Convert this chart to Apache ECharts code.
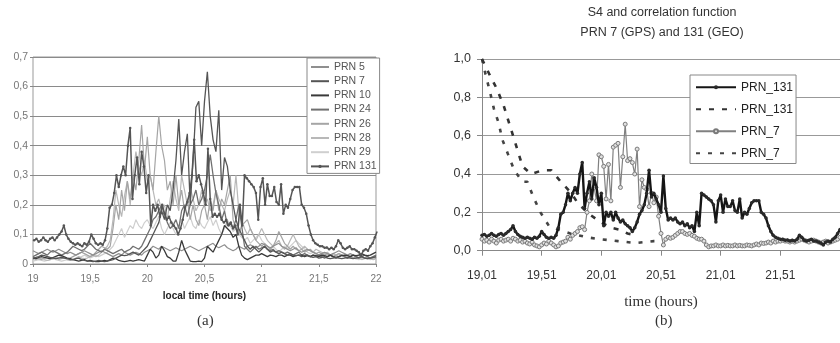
<!DOCTYPE html>
<html>
<head>
<meta charset="utf-8">
<script src="https://cdn.jsdelivr.net/npm/echarts@6/dist/echarts.min.js"></script>
<style>
  html, body { margin: 0; padding: 0; background: #fff; }
  #chart { width: 840px; height: 343px; }
</style>
</head>
<body>
<div id="chart"></div>
<script>
// Evenly spaced sampling instants (hours)
function evenHours(start, step, count) {
  return Array.from({ length: count }, (_, i) => +(start + i * step).toFixed(3));
}
const hoursA = evenHours(19.0, 0.025, 121);   // panel (a) receivers, 19:00 .. 22:00
const hoursB = evenHours(19.01, 0.02, 151);   // PRN 131 / PRN_7 S4 samples, 19.01 .. 22.01

// Axis tick labels
const ticksA = [19, 19.5, 20, 20.5, 21, 21.5, 22];
const ticksB = ['19,01', '19,51', '20,01', '20,51', '21,01', '21,51'];

// ---- Panel (a): S4 per satellite ----
const prn5 = [
  0.045,0.040,0.035,0.040,0.045,0.050,0.045,0.040,0.045,0.050,
  0.045,0.040,0.035,0.040,0.035,0.030,0.035,0.040,0.045,0.040,
  0.035,0.030,0.035,0.040,0.045,0.040,0.035,0.030,0.025,0.030,
  0.035,0.030,0.040,0.035,0.030,0.035,0.040,0.035,0.030,0.040,
  0.045,0.050,0.060,0.055,0.050,0.060,0.055,0.050,0.045,0.050,
  0.055,0.050,0.045,0.050,0.055,0.060,0.055,0.050,0.045,0.050,
  0.055,0.060,0.065,0.070,0.060,0.055,0.060,0.065,0.055,0.050,
  0.045,0.050,0.060,0.055,0.050,0.060,0.065,0.060,0.055,0.060,
  0.070,0.065,0.060,0.055,0.060,0.065,0.070,0.060,0.055,0.050,
  0.045,0.050,0.055,0.045,0.040,0.045,0.050,0.045,0.040,0.035,
  0.030,0.035,0.040,0.035,0.030,0.035,0.040,0.045,0.040,0.035,
  0.030,0.035,0.030,0.025,0.030,0.025,0.020,0.025,0.020,0.025,
  0.020
];
const prn7 = [
  0.020,0.022,0.025,0.030,0.028,0.025,0.022,0.020,0.018,0.020,
  0.022,0.020,0.018,0.015,0.015,0.018,0.020,0.015,0.012,0.010,
  0.010,0.008,0.010,0.012,0.010,0.008,0.010,0.012,0.015,0.020,
  0.025,0.030,0.028,0.030,0.035,0.040,0.035,0.030,0.040,0.050,
  0.060,0.080,0.100,0.120,0.140,0.180,0.150,0.200,0.180,0.250,
  0.350,0.490,0.300,0.380,0.440,0.200,0.350,0.530,0.550,0.400,
  0.550,0.650,0.500,0.420,0.380,0.520,0.250,0.360,0.330,0.250,
  0.200,0.150,0.120,0.100,0.080,0.060,0.050,0.060,0.050,0.040,
  0.050,0.060,0.050,0.040,0.045,0.040,0.035,0.040,0.035,0.030,
  0.035,0.030,0.028,0.030,0.025,0.028,0.030,0.025,0.022,0.025,
  0.020,0.022,0.025,0.020,0.018,0.020,0.022,0.020,0.018,0.020,
  0.022,0.020,0.018,0.020,0.022,0.025,0.020,0.018,0.020,0.022,
  0.025
];
const prn10 = [
  0.020,0.018,0.022,0.025,0.022,0.020,0.018,0.022,0.026,0.030,
  0.028,0.024,0.020,0.018,0.015,0.012,0.010,0.012,0.015,0.010,
  0.012,0.010,0.008,0.008,0.010,0.012,0.010,0.015,0.020,0.018,
  0.012,0.010,0.008,0.010,0.012,0.010,0.012,0.015,0.012,0.010,
  0.030,0.050,0.040,0.020,0.030,0.060,0.045,0.025,0.020,0.010,
  0.010,0.040,0.080,0.050,0.030,0.010,0.008,0.008,0.010,0.008,
  0.020,0.060,0.050,0.040,0.060,0.080,0.100,0.130,0.120,0.110,
  0.090,0.100,0.060,0.030,0.020,0.015,0.020,0.025,0.030,0.030,
  0.035,0.030,0.025,0.030,0.028,0.025,0.030,0.030,0.025,0.030,
  0.030,0.025,0.028,0.030,0.030,0.025,0.028,0.025,0.030,0.028,
  0.025,0.030,0.028,0.025,0.030,0.025,0.022,0.025,0.028,0.030,
  0.028,0.025,0.030,0.028,0.030,0.035,0.030,0.028,0.030,0.035,
  0.040
];
const prn24 = [
  0.025,0.030,0.035,0.040,0.035,0.030,0.040,0.045,0.040,0.035,
  0.030,0.035,0.040,0.050,0.060,0.055,0.050,0.045,0.050,0.060,
  0.070,0.060,0.050,0.045,0.040,0.050,0.045,0.040,0.035,0.040,
  0.045,0.050,0.040,0.045,0.050,0.060,0.055,0.050,0.060,0.080,
  0.100,0.120,0.150,0.160,0.180,0.200,0.170,0.140,0.120,0.130,
  0.150,0.120,0.180,0.200,0.160,0.200,0.220,0.250,0.200,0.220,
  0.250,0.300,0.370,0.300,0.240,0.200,0.150,0.180,0.130,0.140,
  0.120,0.150,0.200,0.130,0.060,0.050,0.040,0.050,0.060,0.050,
  0.055,0.060,0.050,0.045,0.050,0.040,0.045,0.040,0.035,0.040,
  0.035,0.030,0.035,0.040,0.030,0.035,0.030,0.025,0.030,0.025,
  0.030,0.025,0.020,0.025,0.030,0.025,0.020,0.025,0.030,0.025,
  0.020,0.025,0.030,0.025,0.020,0.025,0.030,0.025,0.020,0.025,
  0.030
];
const prn26 = [
  0.015,0.020,0.018,0.015,0.020,0.025,0.020,0.018,0.020,0.022,
  0.025,0.020,0.018,0.020,0.025,0.030,0.035,0.040,0.035,0.030,
  0.025,0.030,0.040,0.050,0.060,0.055,0.050,0.060,0.120,0.200,
  0.150,0.250,0.180,0.280,0.220,0.300,0.250,0.350,0.470,0.320,
  0.430,0.300,0.250,0.380,0.500,0.400,0.350,0.250,0.280,0.200,
  0.300,0.200,0.250,0.180,0.220,0.150,0.200,0.150,0.130,0.180,
  0.200,0.150,0.220,0.180,0.250,0.180,0.220,0.200,0.250,0.300,
  0.150,0.120,0.100,0.130,0.140,0.150,0.120,0.100,0.080,0.070,
  0.060,0.070,0.060,0.050,0.060,0.080,0.110,0.090,0.070,0.060,
  0.050,0.060,0.050,0.045,0.050,0.040,0.045,0.050,0.040,0.035,
  0.040,0.035,0.030,0.035,0.030,0.025,0.030,0.035,0.030,0.025,
  0.030,0.025,0.020,0.025,0.020,0.025,0.020,0.018,0.020,0.022,
  0.020
];
const prn28 = [
  0.020,0.015,0.018,0.020,0.015,0.012,0.015,0.018,0.020,0.015,
  0.018,0.020,0.015,0.012,0.015,0.020,0.025,0.020,0.018,0.020,
  0.025,0.030,0.025,0.030,0.040,0.050,0.060,0.080,0.150,0.250,
  0.200,0.160,0.230,0.280,0.200,0.300,0.380,0.330,0.300,0.350,
  0.280,0.300,0.250,0.200,0.220,0.180,0.200,0.150,0.220,0.280,
  0.220,0.180,0.300,0.250,0.200,0.260,0.220,0.180,0.200,0.250,
  0.200,0.220,0.180,0.200,0.250,0.220,0.200,0.180,0.220,0.250,
  0.200,0.300,0.180,0.150,0.120,0.100,0.120,0.100,0.080,0.100,
  0.120,0.100,0.080,0.070,0.060,0.070,0.080,0.060,0.050,0.060,
  0.080,0.100,0.080,0.060,0.050,0.060,0.050,0.045,0.040,0.050,
  0.045,0.040,0.035,0.040,0.030,0.035,0.030,0.025,0.030,0.025,
  0.020,0.025,0.020,0.018,0.020,0.015,0.018,0.020,0.018,0.015,
  0.018
];
const prn29 = [
  0.010,0.012,0.015,0.012,0.010,0.012,0.015,0.018,0.015,0.012,
  0.010,0.012,0.015,0.012,0.015,0.018,0.020,0.025,0.030,0.025,
  0.020,0.025,0.030,0.025,0.030,0.035,0.040,0.050,0.060,0.080,
  0.100,0.120,0.090,0.110,0.130,0.120,0.150,0.130,0.120,0.140,
  0.150,0.130,0.120,0.140,0.160,0.120,0.100,0.120,0.140,0.120,
  0.100,0.130,0.150,0.120,0.140,0.160,0.130,0.120,0.150,0.130,
  0.120,0.140,0.160,0.130,0.150,0.120,0.100,0.120,0.150,0.130,
  0.110,0.120,0.100,0.090,0.080,0.090,0.070,0.080,0.090,0.100,
  0.080,0.070,0.060,0.050,0.060,0.050,0.040,0.050,0.060,0.050,
  0.060,0.070,0.080,0.070,0.060,0.050,0.040,0.035,0.040,0.035,
  0.030,0.035,0.030,0.025,0.030,0.025,0.030,0.035,0.030,0.025,
  0.020,0.025,0.020,0.018,0.015,0.018,0.020,0.018,0.015,0.018,
  0.015
];

// ---- PRN 131 (GEO) and PRN 7 (GPS) S4, sampled on hoursB ----
const s4Prn131 = [
  0.080,0.085,0.075,0.080,0.090,0.080,0.075,0.085,0.090,0.080,
  0.090,0.100,0.110,0.130,0.100,0.085,0.075,0.070,0.065,0.070,
  0.065,0.060,0.070,0.065,0.075,0.100,0.085,0.070,0.065,0.070,
  0.065,0.080,0.120,0.190,0.200,0.240,0.300,0.260,0.300,0.330,
  0.300,0.400,0.460,0.220,0.300,0.360,0.270,0.380,0.330,0.240,
  0.300,0.130,0.200,0.180,0.200,0.160,0.200,0.170,0.150,0.160,
  0.140,0.130,0.120,0.100,0.120,0.150,0.190,0.210,0.240,0.300,
  0.420,0.280,0.300,0.270,0.240,0.200,0.390,0.220,0.160,0.170,
  0.160,0.170,0.150,0.140,0.150,0.130,0.140,0.120,0.130,0.100,
  0.200,0.130,0.300,0.290,0.280,0.270,0.260,0.240,0.150,0.260,
  0.290,0.200,0.270,0.230,0.230,0.260,0.210,0.200,0.270,0.170,
  0.200,0.190,0.220,0.250,0.260,0.260,0.260,0.200,0.190,0.170,
  0.130,0.100,0.080,0.070,0.065,0.060,0.060,0.055,0.056,0.050,
  0.055,0.050,0.060,0.080,0.070,0.055,0.050,0.055,0.060,0.050,
  0.050,0.045,0.040,0.030,0.045,0.050,0.045,0.060,0.070,0.090,
  0.110
];
const s4Prn7 = [
  0.060,0.050,0.055,0.045,0.060,0.050,0.040,0.055,0.060,0.050,
  0.055,0.060,0.050,0.065,0.060,0.050,0.055,0.045,0.050,0.040,
  0.035,0.045,0.030,0.025,0.020,0.030,0.040,0.035,0.050,0.040,
  0.030,0.020,0.025,0.040,0.045,0.050,0.070,0.060,0.080,0.090,
  0.100,0.120,0.125,0.110,0.200,0.260,0.400,0.330,0.260,0.500,
  0.490,0.440,0.270,0.450,0.260,0.540,0.550,0.560,0.330,0.490,
  0.660,0.470,0.480,0.460,0.400,0.530,0.230,0.370,0.330,0.320,
  0.230,0.300,0.250,0.280,0.180,0.090,0.030,0.060,0.070,0.065,
  0.070,0.080,0.090,0.100,0.100,0.090,0.085,0.090,0.080,0.075,
  0.065,0.060,0.060,0.050,0.030,0.020,0.025,0.025,0.030,0.025,
  0.025,0.030,0.025,0.028,0.025,0.025,0.030,0.025,0.028,0.025,
  0.025,0.030,0.028,0.025,0.030,0.035,0.030,0.040,0.038,0.040,
  0.045,0.040,0.050,0.045,0.050,0.050,0.055,0.050,0.050,0.045,
  0.050,0.045,0.050,0.055,0.060,0.055,0.050,0.045,0.050,0.055,
  0.050,0.045,0.040,0.045,0.050,0.040,0.045,0.050,0.055,0.060,
  0.070
];

// ---- Correlation functions (sparse points) ----
const corr131Hours = [19.01,19.08,19.13,19.19,19.23,19.27,19.31,19.35,19.42,19.52,19.59,19.67,19.76,19.81,19.90,20.00,20.09,20.16,20.23,20.30];
const corr131 =      [1.00, 0.91, 0.85, 0.76, 0.68, 0.60, 0.52, 0.44, 0.40, 0.42, 0.42, 0.36, 0.30, 0.25, 0.195,0.15, 0.12, 0.11, 0.09, 0.08];
const corr7Hours = [19.01,19.04,19.08,19.11,19.15,19.18,19.23,19.28,19.35,19.39,19.44,19.50,19.57,19.65,19.75,19.89,20.00,20.15,20.30,20.45,20.51];
const corr7 =      [1.00, 0.92, 0.82, 0.74, 0.665,0.58, 0.50, 0.42, 0.36, 0.36, 0.28, 0.20, 0.13, 0.11, 0.09, 0.07, 0.06, 0.05, 0.04, 0.05, 0.05];

const B0 = 19.01; // origin of panel (b) time axis
const pairs = (xs, ys, shift) => ys.map((y, i) => [+(xs[i] - shift).toFixed(3), y]);

const comma = s => String(s).replace('.', ',');
const sans = "'Liberation Sans', Arial, sans-serif";
const serif = "'Liberation Serif', 'DejaVu Serif', serif";
const noMarker = { opacity: 0 };

function thinLine(name, data, color, width, z) {
  return {
    name, type: 'line', xAxisIndex: 0, yAxisIndex: 0,
    data: pairs(hoursA, data, 0), symbol: 'none', z: z || 2,
    lineStyle: { color, width }, itemStyle: { color }
  };
}

const chart = echarts.init(document.getElementById('chart'), null, { renderer: 'canvas' });

chart.setOption({
  animation: false,
  backgroundColor: '#fff',
  title: [{
    text: 'S4 and correlation function\nPRN 7 (GPS) and 131 (GEO)',
    left: 662, top: 3, textAlign: 'center', padding: 0,
    textStyle: { fontFamily: sans, fontSize: 12.5, fontWeight: 'normal', color: '#333', lineHeight: 20 }
  }],
  graphic: [
    { type: 'text', left: 197, top: 314, style: { text: '(a)', font: '15px ' + serif, fill: '#333' } },
    { type: 'text', left: 655, top: 314, style: { text: '(b)', font: '15px ' + serif, fill: '#333' } }
  ],
  grid: [
    { left: 33, top: 57, width: 343, height: 207, show: true, borderColor: '#999', borderWidth: 1 },
    { left: 482, top: 59, width: 360.6, height: 191.7 }
  ],
  legend: [
    {
      data: [
        { name: 'PRN 5', itemStyle: noMarker },
        { name: 'PRN 7', itemStyle: noMarker },
        { name: 'PRN 10', itemStyle: noMarker },
        { name: 'PRN 24', itemStyle: noMarker },
        { name: 'PRN 26', itemStyle: noMarker },
        { name: 'PRN 28', itemStyle: noMarker },
        { name: 'PRN 29', itemStyle: noMarker },
        'PRN 131'
      ],
      orient: 'vertical', left: 307, top: 58,
      itemWidth: 18, itemHeight: 4, itemGap: 2.2,
      padding: [3, 3, 1, 3],
      backgroundColor: '#fff', borderColor: '#888', borderWidth: 1,
      textStyle: { fontFamily: sans, fontSize: 10.5, color: '#555', lineHeight: 12 },
      selectedMode: false
    },
    {
      data: [
        'PRN_131',
        { name: 'PRN_131 corr', itemStyle: noMarker },
        'PRN_7',
        { name: 'PRN_7 corr', itemStyle: noMarker }
      ],
      orient: 'vertical', left: 690, top: 75,
      itemWidth: 40, itemHeight: 5, itemGap: 9.5,
      padding: [6, 3, 4, 5],
      backgroundColor: '#fff', borderColor: '#888', borderWidth: 1,
      formatter: n => n.replace(' corr', ''),
      textStyle: { fontFamily: sans, fontSize: 12, color: '#222', lineHeight: 12.5 },
      selectedMode: false
    }
  ],
  xAxis: [
    {
      gridIndex: 0, type: 'value', min: 19, max: 22, interval: 0.5,
      axisLine: { show: false },
      axisTick: { show: true, length: 3, lineStyle: { color: '#888' } },
      splitLine: { show: false },
      axisLabel: { color: '#777', fontSize: 10, fontFamily: sans, margin: 10,
        formatter: v => ticksA.includes(v) ? comma(v) : '' },
      name: 'local time (hours)', nameLocation: 'middle', nameGap: 27,
      nameTextStyle: { fontFamily: sans, fontSize: 10, fontWeight: 'bold', color: '#222' }
    },
    {
      gridIndex: 1, type: 'value', min: 0, max: 3.0, interval: 0.5,
      axisLine: { show: true, lineStyle: { color: '#888' } },
      axisTick: { show: true, length: 5, lineStyle: { color: '#888' } },
      splitLine: { show: false },
      axisLabel: { color: '#333', fontSize: 12, fontFamily: sans, margin: 19, showMaxLabel: false,
        formatter: v => ticksB[Math.round(v / 0.5)] || '' },
      name: 'time (hours)', nameLocation: 'middle', nameGap: 44,
      nameTextStyle: { fontFamily: serif, fontSize: 15, color: '#333' }
    }
  ],
  yAxis: [
    {
      gridIndex: 0, type: 'value', min: 0, max: 0.7, interval: 0.1,
      axisLine: { show: false },
      axisTick: { show: true, length: 3, lineStyle: { color: '#888' } },
      splitLine: { lineStyle: { color: '#8a8a8a', width: 1 } },
      axisLabel: { color: '#777', fontSize: 10.5, fontFamily: sans, margin: 5,
        formatter: v => v === 0 ? '0' : comma(v.toFixed(1)) }
    },
    {
      gridIndex: 1, type: 'value', min: 0, max: 1, interval: 0.2,
      axisLine: { show: true, lineStyle: { color: '#888' } },
      axisTick: { show: true, length: 5, lineStyle: { color: '#888' } },
      splitLine: { lineStyle: { color: '#999', width: 1 } },
      axisLabel: { color: '#333', fontSize: 12.5, fontFamily: sans, margin: 11,
        formatter: v => comma(v.toFixed(1)) }
    }
  ],
  series: [
    thinLine('PRN 29', prn29, '#cfcfcf', 1.2, 2),
    thinLine('PRN 28', prn28, '#b8b8b8', 1.2, 3),
    thinLine('PRN 26', prn26, '#a5a5a5', 1.2, 4),
    thinLine('PRN 5', prn5, '#8f8f8f', 1.2, 5),
    thinLine('PRN 24', prn24, '#707070', 1.3, 6),
    thinLine('PRN 10', prn10, '#3a3a3a', 1.3, 7),
    thinLine('PRN 7', prn7, '#555', 1.3, 8),
    {
      name: 'PRN 131', type: 'line', xAxisIndex: 0, yAxisIndex: 0, z: 9,
      data: pairs(hoursB, s4Prn131, 0),
      symbol: 'circle', symbolSize: 2.5, showSymbol: true,
      lineStyle: { color: '#555', width: 1.5 }, itemStyle: { color: '#555' }
    },
    // Panel (b)
    {
      name: 'PRN_7', type: 'line', xAxisIndex: 1, yAxisIndex: 1, z: 3,
      data: pairs(hoursB, s4Prn7, B0),
      symbol: 'circle', symbolSize: 4, showSymbol: true,
      lineStyle: { color: '#808080', width: 1.2 },
      itemStyle: { color: '#e0e0e0', borderColor: '#7a7a7a', borderWidth: 1 }
    },
    {
      name: 'PRN_7 corr', type: 'line', xAxisIndex: 1, yAxisIndex: 1, z: 4,
      data: pairs(corr7Hours, corr7, B0), symbol: 'none',
      lineStyle: { color: '#444', width: 2.6, type: [4, 8] }, itemStyle: { color: '#444' }
    },
    {
      name: 'PRN_131 corr', type: 'line', xAxisIndex: 1, yAxisIndex: 1, z: 4,
      data: pairs(corr131Hours, corr131, B0), symbol: 'none',
      lineStyle: { color: '#333', width: 2.6, type: [5, 8] }, itemStyle: { color: '#333' }
    },
    {
      name: 'PRN_131', type: 'line', xAxisIndex: 1, yAxisIndex: 1, z: 5,
      data: pairs(hoursB, s4Prn131, B0),
      symbol: 'circle', symbolSize: 3.5, showSymbol: true,
      lineStyle: { color: '#151515', width: 2.4 }, itemStyle: { color: '#2a2a2a' }
    }
  ]
});
</script>
</body>
</html>
